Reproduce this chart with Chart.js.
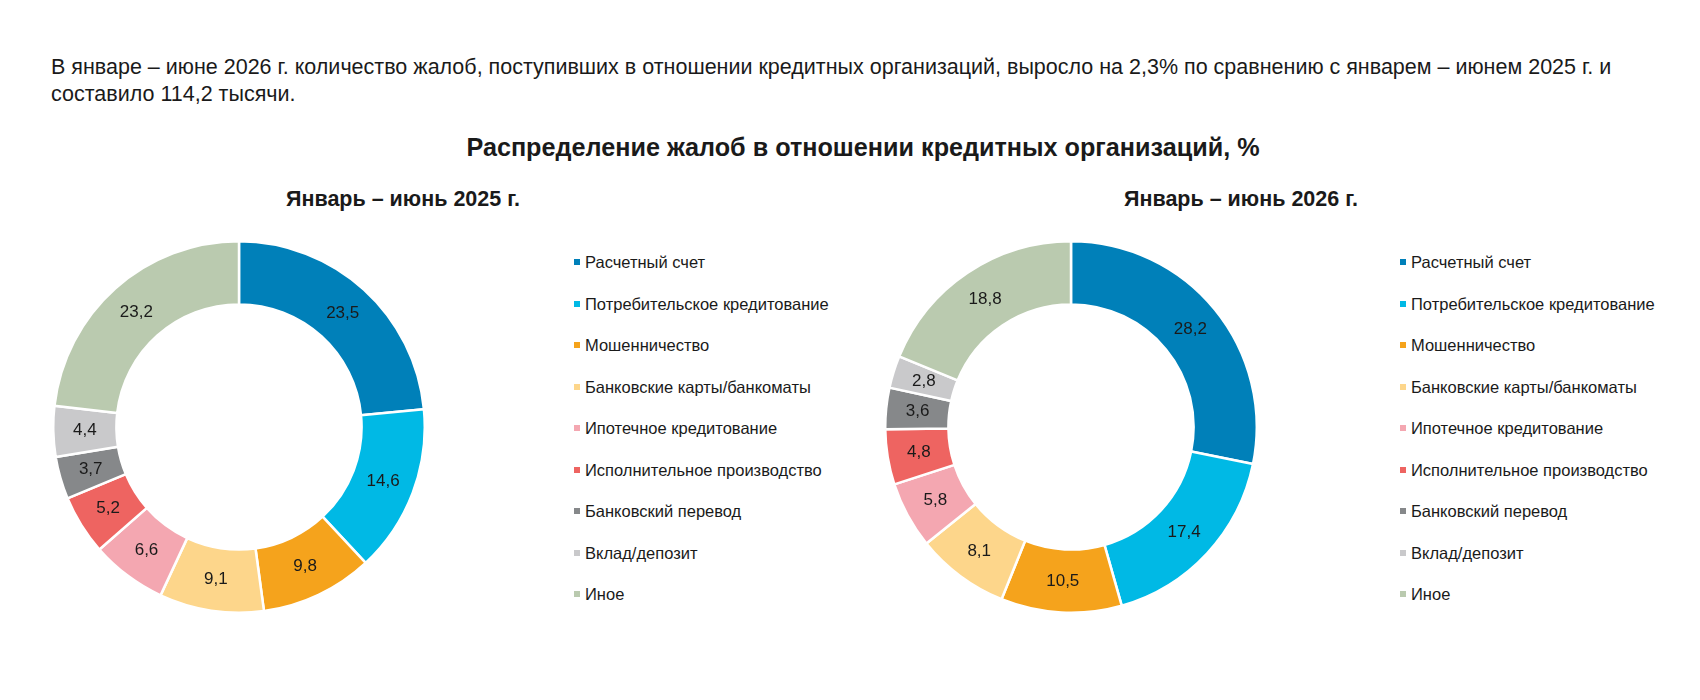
<!DOCTYPE html>
<html lang="ru">
<head>
<meta charset="utf-8">
<title>Распределение жалоб</title>
<script src="https://cdn.jsdelivr.net/npm/chart.js@4.4.1/dist/chart.umd.min.js"></script>
<style>
  body { margin: 0; background: #fff; font-family: "Liberation Sans", Arial, sans-serif; color: #1a1a1a; }
  #page { position: relative; width: 1700px; height: 700px; overflow: hidden; }
  .intro { position: absolute; left: 51px; top: 54px; font-size: 21.5px; line-height: 27px; white-space: nowrap; }
  .title { position: absolute; left: 0; width: 1726px; top: 133px; text-align: center; font-weight: bold; font-size: 25.2px; }
  .subtitle { position: absolute; top: 187px; font-weight: bold; font-size: 21.5px; white-space: nowrap; transform: translateX(-50%); }
  .donut { position: absolute; }
  .legend { position: absolute; top: 250px; list-style: none; margin: 0; padding: 0; font-size: 16.5px; }
  .legend li { height: 41.5px; line-height: 24px; white-space: nowrap; }
  .legend span { display: inline-block; width: 6px; height: 6px; margin-right: 5px; vertical-align: 3px; }
</style>
</head>
<body>
<div id="page">
  <div class="intro">В январе – июне 2026 г. количество жалоб, поступивших в отношении кредитных организаций, выросло на 2,3% по сравнению с январем – июнем 2025 г. и<br>составило 114,2 тысячи.</div>
  <div class="title">Распределение жалоб в отношении кредитных организаций, %</div>

  <div class="subtitle" style="left:403px">Январь – июнь 2025 г.</div>
  <div class="donut" style="left:52px; top:240px"><canvas id="chart2025" width="374" height="374"></canvas></div>
  <ul class="legend" id="legend2025" style="left:574px"></ul>

  <div class="subtitle" style="left:1241px">Январь – июнь 2026 г.</div>
  <div class="donut" style="left:884px; top:240px"><canvas id="chart2026" width="374" height="374"></canvas></div>
  <ul class="legend" id="legend2026" style="left:1400px"></ul>
</div>

<script>
// Категории жалоб
const categories = [
  'Расчетный счет',
  'Потребительское кредитование',
  'Мошенничество',
  'Банковские карты/банкоматы',
  'Ипотечное кредитование',
  'Исполнительное производство',
  'Банковский перевод',
  'Вклад/депозит',
  'Иное'
];

// Доли, %
const values2025 = [23.5, 14.6, 9.8, 9.1, 6.6, 5.2, 3.7, 4.4, 23.2];
const values2026 = [28.2, 17.4, 10.5, 8.1, 5.8, 4.8, 3.6, 2.8, 18.8];

const sliceColors = [
  '#0080b9', // синий
  '#00b9e5', // голубой
  '#f5a31c', // оранжевый
  '#fdd68b', // светло-желтый
  '#f4a7b1', // розовый
  '#ee6461', // красный
  '#86888a', // серый
  '#c9c9cb', // светло-серый
  '#bacaaf'  // оливковый
];

const fmt = v => v.toFixed(1).replace('.', ',');

// Подписи значений по центру сегментов
const valueLabels = {
  id: 'valueLabels',
  afterDatasetsDraw(chart) {
    const ctx = chart.ctx;
    const data = chart.data.datasets[0].data;
    ctx.save();
    ctx.font = '17px "Liberation Sans", Arial, sans-serif';
    ctx.fillStyle = '#1a1a1a';
    ctx.textAlign = 'center';
    ctx.textBaseline = 'middle';
    chart.getDatasetMeta(0).data.forEach((arc, i) => {
      const p = arc.tooltipPosition();
      ctx.fillText(fmt(data[i]), p.x, p.y);
    });
    ctx.restore();
  }
};

function buildDonut(id, values) {
  const ctx = document.getElementById(id).getContext('2d');
  return new Chart(ctx, {
    type: 'doughnut',
    data: {
      labels: categories,
      datasets: [{
        data: values,
        backgroundColor: sliceColors,
        borderColor: '#ffffff',
        borderWidth: 2.5
      }]
    },
    options: {
      responsive: false,
      animation: false,
      cutout: '66%',
      plugins: {
        legend: { display: false },
        tooltip: { enabled: false }
      }
    },
    plugins: [valueLabels]
  });
}

function buildLegend(id) {
  const ul = document.getElementById(id);
  categories.forEach((name, i) => {
    const li = document.createElement('li');
    const box = document.createElement('span');
    box.style.background = sliceColors[i];
    li.appendChild(box);
    li.appendChild(document.createTextNode(name));
    ul.appendChild(li);
  });
}

buildDonut('chart2025', values2025);
buildDonut('chart2026', values2026);
buildLegend('legend2025');
buildLegend('legend2026');
</script>
</body>
</html>
